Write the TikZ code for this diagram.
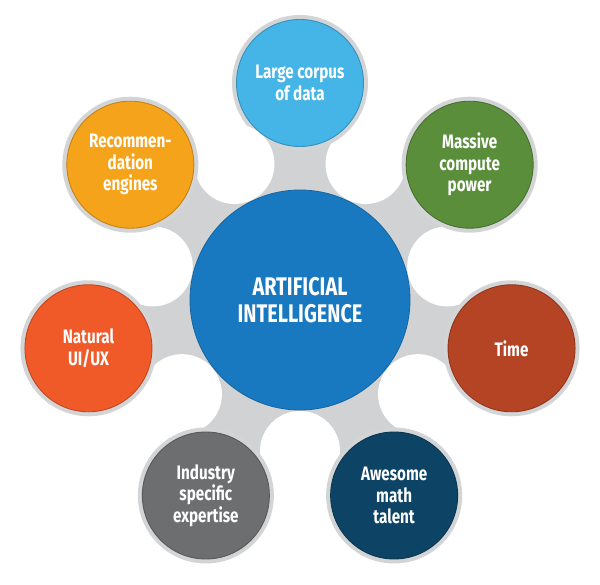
\documentclass[tikz,border=0pt]{standalone}
\usepackage{fontspec}
\usetikzlibrary{calc}
\newfontfamily\lblfont{Fira Sans}[FakeStretch=0.78]
\definecolor{stemgray}{HTML}{D1D2D4}
\definecolor{ringgray}{HTML}{D3D4D6}
\definecolor{cblue}{HTML}{1878C0}
\definecolor{sky}{HTML}{45B4E7}
\definecolor{grn}{HTML}{5A8E3B}
\definecolor{rust}{HTML}{B44424}
\definecolor{navy}{HTML}{0D4466}
\definecolor{slate}{HTML}{6D6E70}
\definecolor{tang}{HTML}{F05A28}
\definecolor{amber}{HTML}{F6A31C}
\tikzset{
  sat/.style={circle, minimum size=127pt, inner sep=0pt, line width=0.9pt,
    text=white, align=center, font=\lblfont\bfseries\fontsize{19.5}{21.5}\selectfont},
  hub/.style={circle, minimum size=220pt, inner sep=0pt, fill=cblue, draw=cblue!85!black,
    line width=0.8pt, text=white, align=center, font=\lblfont\bfseries\fontsize{25.5}{27}\selectfont}
}
\begin{document}
\begin{tikzpicture}[x=1pt,y=-1pt]
\useasboundingbox (0,0) rectangle (600,585);
\coordinate (C) at (300,300);
\foreach \i in {0,...,6} {
  \pgfmathsetmacro\ang{-90+\i*51.428571}
  \coordinate (S\i) at ($(C)+(\ang:217)$);
  \coordinate (H\i) at ($(C)+(\ang+25.714286:151)$);
  \coordinate (A\i) at ($(C)+(\ang+25.714286:111)$);
}
\foreach \i in {0,...,6} {
  \pgfmathtruncatemacro\prev{mod(\i+6,7)}
  \coordinate (Bm\i) at ($(S\i)!68pt!(H\prev)$);
  \coordinate (Bp\i) at ($(S\i)!68pt!(H\i)$);
}
\fill[stemgray] (Bm0) -- (Bp0) -- (A0) -- (Bm1) -- (Bp1) -- (A1) -- (Bm2) -- (Bp2) -- (A2)
  -- (Bm3) -- (Bp3) -- (A3) -- (Bm4) -- (Bp4) -- (A4) -- (Bm5) -- (Bp5) -- (A5)
  -- (Bm6) -- (Bp6) -- (A6) -- cycle;
\foreach \i in {0,...,6} {
  \fill[white] (H\i) circle[radius=40];
  \fill[ringgray] (S\i) circle[radius=68];
}
\node[hub] (ai) at (C) {ARTIFICIAL\\INTELLIGENCE};
\node[sat, fill=sky, draw=sky!80!black] (data) at (S0) {Large corpus\\of data};
\node[sat, fill=grn, draw=grn!80!black] (compute) at (S1) {Massive\\compute\\power};
\node[sat, fill=rust, draw=rust!80!black] (time) at (S2) {Time};
\node[sat, fill=navy, draw=navy!80!black] (math) at (S3) {Awesome\\math\\talent};
\node[sat, fill=slate, draw=slate!80!black] (industry) at (S4) {Industry\\specific\\expertise};
\node[sat, fill=tang, draw=tang!80!black] (ui) at (S5) {Natural\\UI/UX};
\node[sat, fill=amber, draw=amber!80!black] (rec) at (S6) {Recommen-\\dation\\engines};
\end{tikzpicture}
\end{document}
